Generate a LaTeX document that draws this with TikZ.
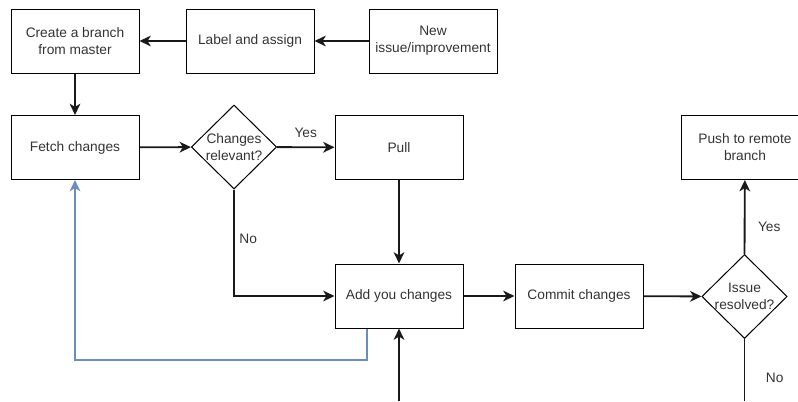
\documentclass[tikz,border=0pt]{standalone}
\usepackage{fontspec}
\setmainfont{Liberation Sans}
\usetikzlibrary{positioning,shapes.geometric,arrows.meta}
\definecolor{loopblue}{HTML}{6C8EBF}

\tikzset{
	stepbox/.style={rectangle, draw=black, line width=0.75pt, minimum width=96pt, minimum height=48pt, inner sep=0pt, align=center, font=\fontsize{10.3}{12.8}\selectfont, text=black!80},
	choice/.style={diamond, draw=black, line width=0.75pt, minimum width=64pt, minimum height=63pt, inner sep=0pt},
	choicetext/.style={label={[align=center, font=\fontsize{10.3}{12.8}\selectfont, text=black!80]center:#1}},
	flow/.style={line width=1.4pt, draw=black!90, -{Stealth[length=8.5pt, width=8pt, inset=2.5pt]}},
	flowlabel/.style={font=\fontsize{10.3}{12.8}\selectfont, text=black!80}
}

\begin{document}
\begin{tikzpicture}[x=0.75pt, y=-0.75pt]
	\useasboundingbox (0,0) rectangle (798,401);
	\clip (0,0) rectangle (798,401);

	% top row
	\node[stepbox] (branch) at (75,41) {Create a branch\\from master};
	\node[stepbox] (label) at (250,41) {Label and assign};
	\node[stepbox] (issue) at (433,41) {New\\issue/improvement};

	% middle row
	\node[stepbox] (fetch) at (75,147.5) {Fetch changes};
	\node[choice, choicetext={Changes\\relevant?}] (relevant) at (234,147) {};
	\node[stepbox] (pull) at (399,147.5) {Pull};
	\node[stepbox] (push) at (745,147.5) {Push to remote\\branch};

	% bottom row
	\node[stepbox] (add) at (399,296) {Add you changes};
	\node[stepbox] (commit) at (579,296) {Commit changes};
	\node[choice, choicetext={Issue\\resolved?}] (resolved) at (744.5,296.5) {};

	\coordinate (incoming) at (399,401);
	\coordinate (notyet) at (744.5,401);

	\path[flow] (issue) -- (label);
	\path[flow] (label) -- (branch);
	\path[flow] (branch) -- (fetch);
	\path[flow] (fetch) -- (relevant);
	\path[flow] (relevant) -- node[flowlabel, above, yshift=3pt] {Yes} (pull);
	\path[flow] (relevant.south) |- node[flowlabel, right, pos=0.23] {No} (add.west);
	\path[flow] (pull) -- (add);
	\path[flow] (incoming) -- (add);
	\path[flow] (add) -- (commit);
	\path[flow] (commit) -- (resolved);
	\path[flow] (resolved.north) -- node[flowlabel, right, pos=0.37, xshift=6pt] {Yes} (push);
	\path[line width=1.4pt, draw=black!90] (resolved.south) -- node[flowlabel, right, pos=0.62, xshift=12pt] {No} (notyet);

	% loop back
	\path[flow, draw=loopblue] (add.south -| 367,0) |- (75,360) -- (fetch.south);
\end{tikzpicture}
\end{document}
